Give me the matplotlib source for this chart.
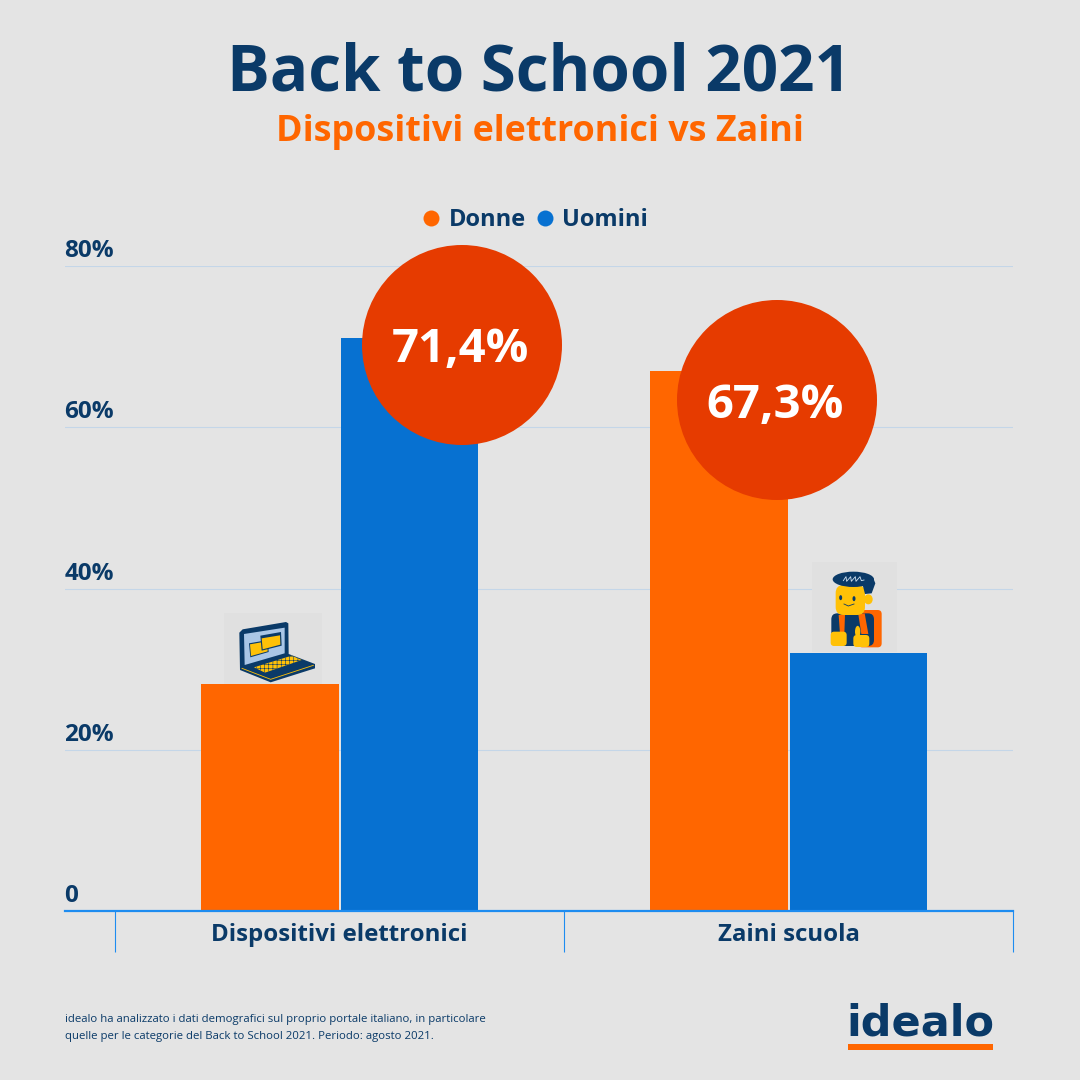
import matplotlib
matplotlib.use("Agg")
import matplotlib.pyplot as plt
from matplotlib.lines import Line2D
from matplotlib.patches import Circle, Polygon, Rectangle, Ellipse, FancyBboxPatch

categories = ["Dispositivi elettronici", "Zaini scuola"]
donne = [28.2, 67.0]
uomini = [71.1, 32.05]
y_ticks = [0, 20, 40, 60, 80]
y_labels = ["0", "20%", "40%", "60%", "80%"]
callouts = ["71,4%", "67,3%"]
title = "Back to School 2021"
subtitle = "Dispositivi elettronici vs Zaini"
footnote = ("idealo ha analizzato i dati demografici sul proprio portale italiano, in particolare\n"
            "quelle per le categorie del Back to School 2021. Periodo: agosto 2021.")

BG = "#e4e4e4"; NAVY = "#0a3a68"; ORANGE = "#ff6600"; BLUE = "#0771d1"
RED = "#e63b00"; AXIS = "#1e8cf0"; GRID = "#c4d6e8"; YEL = "#ffc107"; SCREEN = "#a9c6e6"

plt.rcParams["font.family"] = ["Open Sans", "DejaVu Sans"]
plt.rcParams["hatch.linewidth"] = 0.4
W = 1080
fig = plt.figure(figsize=(10.8, 10.8), dpi=100, facecolor=BG)

# main chart axes: pixel box 65..1013 x 266..911
ax = fig.add_axes([65/W, 1-911/W, (1013-65)/W, (911-266)/W], facecolor="none")
unit = 449.0
xleft = -(339.5-65)/unit
ax.set_xlim(xleft, 1.5)
ax.set_ylim(0, 80)
xs = range(len(categories))
ax.bar([x-69.5/unit for x in xs], donne, 138/unit, color=ORANGE, zorder=3)
ax.bar([x+70/unit for x in xs], uomini, 137/unit, color=BLUE, zorder=3)
for s in ("top", "left", "right"):
    ax.spines[s].set_visible(False)
ax.spines["bottom"].set_color(AXIS)
ax.spines["bottom"].set_linewidth(1.6)
ax.spines["bottom"].set_zorder(5)
ax.set_yticks(y_ticks)
ax.set_yticklabels(y_labels, fontsize=17.5, fontweight="bold", color=NAVY, ha="left", va="bottom")
ax.tick_params(axis="y", length=0, pad=0)
for lab in ax.get_yticklabels():
    lab.set_transform(lab.get_transform() + matplotlib.transforms.ScaledTranslation(-0.5/100, 3/100, fig.dpi_scale_trans))
ax.yaxis.grid(True, color=GRID, linewidth=0.8, zorder=0)
ax.set_axisbelow(True)
ax.set_xticks(list(xs))
ax.set_xticklabels(categories, fontsize=17.3, fontweight="bold", color=NAVY)
ax.tick_params(axis="x", which="major", length=0, pad=8.5)
ax.set_xticks([-0.5, 0.5, 1.5], minor=True)
ax.tick_params(axis="x", which="minor", length=29.5, width=0.8, color=AXIS)

handles = [Line2D([], [], marker="o", ls="", ms=11.5, mew=0, color=ORANGE, label="Donne"),
           Line2D([], [], marker="o", ls="", ms=11.5, mew=0, color=BLUE, label="Uomini")]
leg = fig.legend(handles=handles, loc="center", bbox_to_anchor=(532.5/W, 1-220/W), ncol=2,
                 frameon=False, prop={"size": 17, "weight": "bold"},
                 handletextpad=0.15, columnspacing=0.2, borderpad=0, handlelength=1.2)
for t in leg.get_texts():
    t.set_color(NAVY)

# overlay in pixel coordinates for annotations
ov = fig.add_axes([0, 0, 1, 1], facecolor="none")
ov.set_xlim(0, W); ov.set_ylim(W, 0); ov.axis("off")

ov.text(539, 74, title, ha="center", va="center", fontsize=45.9, fontweight="bold", color=NAVY)
ov.text(539.5, 132, subtitle, ha="center", va="center", fontsize=25.85, fontweight="bold", color=ORANGE)

for (cx, cy), lab in zip([(462, 345), (777, 400)], callouts):
    ov.add_patch(Circle((cx, cy), 100, color=RED, lw=0, zorder=6))
    ov.text(cx-1.5, cy+5, lab, ha="center", va="center", fontsize=34, fontweight="bold", color="white", zorder=7)

ov.text(65, 1028, footnote, ha="left", va="center", fontsize=8.22, color=NAVY, linespacing=1.7)

# logo
ov.text(920, 1036, "idealo", ha="center", va="baseline", fontsize=31, fontweight="bold",
        family="DejaVu Sans", color=NAVY)
ov.add_patch(Rectangle((848, 1044), 145, 6, color=ORANGE, lw=0))

def z1(pts):
    return [(180+x/3, 590+y/3) for x, y in pts]
def z2(pts):
    return [(790+x/3, 550+y/3) for x, y in pts]
def poly(pts, c, z=4, **kw):
    ov.add_patch(Polygon(pts, closed=True, fc=c, ec="none", zorder=z, **kw))
def rrect(x0, y0, x1, y1, r, c, z):
    (a, b), (d, e) = z2([(x0, y0), (x1, y1)])
    ov.add_patch(FancyBboxPatch((a+r, b+r), d-a-2*r, e-b-2*r, boxstyle=f"round,pad={r}",
                                fc=c, ec="none", zorder=z))
def ell(x, y, w, h, c, z, angle=0):
    ov.add_patch(Ellipse(z2([(x, y)])[0], w/3, h/3, angle=angle, color=c, lw=0, zorder=z))

# laptop
ov.add_patch(Rectangle((224, 613), 98, 71, color="#e0e0e0", lw=0, zorder=2))
poly(z1([(178,128),(188,118),(318,96),(325,100),(326,192),(405,222),(405,235),(272,277),(180,240)]), NAVY)
poly(z1([(192,132),(314,113),(314,190),(194,225)]), SCREEN, 5)
poly(z1([(207,160),(264,150),(266,186),(211,202)]), NAVY, 5)
poly(z1([(210,163),(261,154),(263,184),(213,198)]), YEL, 5)
poly(z1([(241,137),(303,126),(305,167),(245,182)]), NAVY, 5)
poly(z1([(245,145),(300,136),(301,164),(248,178)]), YEL, 5)
poly(z1([(222,232),(335,197),(365,210),(255,248)]), YEL, 5, hatch="++++", )
ov.patches[-1].set_edgecolor(NAVY)
ov.patches[-1].set_linewidth(0)
ov.add_line(Line2D(*zip(*z1([(186,235),(272,268),(400,226)])), color=YEL, lw=0.6, zorder=5))

# student
ov.add_patch(Rectangle((812, 562), 85, 90, color="#e0e0e0", lw=0, zorder=2))
rrect(205, 180, 275, 292, 4, ORANGE, 3)
rrect(124, 190, 252, 288, 6, NAVY, 4)
poly(z2([(146,195),(165,193),(163,252),(150,252)]), ORANGE, 4)
poly(z2([(205,193),(224,190),(235,252),(214,252)]), ORANGE, 4)
rrect(122, 245, 170, 288, 3.5, YEL, 5)
rrect(190, 255, 238, 291, 3.5, YEL, 5)
ell(203, 245, 16, 35, YEL, 5)
rrect(137, 105, 225, 195, 8, YEL, 5)
ell(235, 148, 26, 30, YEL, 5)
ell(190, 88, 124, 46, NAVY, 6)
poly(z2([(215,75),(250,85),(256,100),(245,130),(225,132),(218,105)]), NAVY, 6)
ell(152, 143, 9, 15, NAVY, 7)
ell(192, 146, 9, 15, NAVY, 7)
ov.add_line(Line2D(*zip(*z2([(160,92),(168,80),(170,94),(182,80),(184,94),(196,80),(198,94),(210,80),(214,92),(222,90)])),
                   color="#cfe0f0", lw=0.6, zorder=7))
ov.add_line(Line2D(*zip(*z2([(162,162),(175,168),(192,162)])), color=NAVY, lw=0.6, zorder=7))

fig.savefig("out.png", dpi=100, facecolor=BG)
